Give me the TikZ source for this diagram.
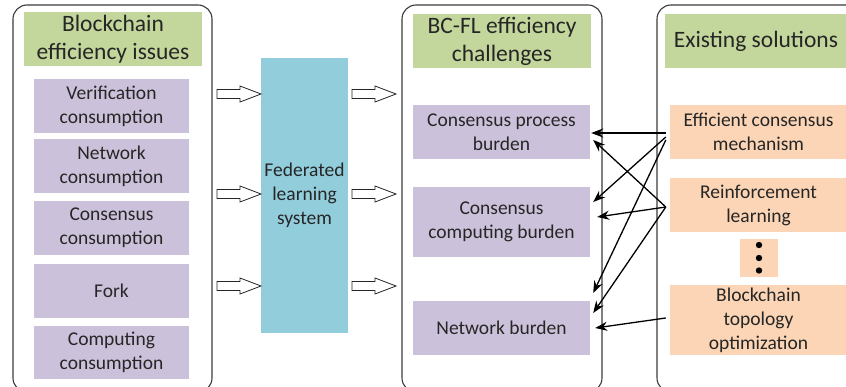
\documentclass[tikz,border=0pt]{standalone}
\usepackage{fontspec}
\setmainfont{Carlito}
\usetikzlibrary{arrows.meta,calc}
\definecolor{hdr}{HTML}{C3D69B}
\definecolor{pur}{HTML}{CCC1DA}
\definecolor{blu}{HTML}{92CDDC}
\definecolor{org}{HTML}{FBD5B5}
\definecolor{txt}{HTML}{262626}
\definecolor{frame}{HTML}{3A3A3A}
\newcommand{\blockarrow}[2]{%
  \draw[barrow] (#1) ++(-44,-4.5) -- ++(23,0) -- ++(0,-3.5) -- (#1)
     -- ++(-21,8) -- ++(0,-3.5) -- ++(-23,0) -- cycle;
  \coordinate (#2) at (#1);}
\begin{document}
\begin{tikzpicture}[x=1pt,y=-1pt,
  container/.style={draw=frame, line width=1.1pt, rounded corners=14pt},
  basebox/.style={inner sep=0pt, align=center, text=txt,
    font=\fontsize{19.5}{24}\selectfont},
  hdrbox/.style={basebox, fill=hdr, minimum width=178pt, minimum height=54pt,
    font=\fontsize{23.5}{28}\selectfont},
  pbox/.style={basebox, fill=pur},
  obox/.style={basebox, fill=org, minimum width=177pt},
  barrow/.style={draw=black!85, fill=white, line width=0.8pt, line join=miter},
  link/.style={-{Stealth[length=12pt,width=9pt]}, line width=1.3pt, black}]
\useasboundingbox (0,0) rectangle (846,387);
\clip (0,0) rectangle (846,387);
% containers
\draw[container] (13,5) rectangle (212,392);
\draw[container] (402,5) rectangle (602,392);
\draw[container] (657,5) rectangle (890,392);
% left column
\node[hdrbox] (lh) at (113,39) {Blockchain\\efficiency issues};
\node[pbox, minimum width=155pt, minimum height=54pt] (l1) at (111.5,106) {Verification\\consumption};
\node[pbox, minimum width=155pt, minimum height=54pt] (l2) at (111.5,166) {Network\\consumption};
\node[pbox, minimum width=155pt, minimum height=54pt] (l3) at (111.5,228) {Consensus\\consumption};
\node[pbox, minimum width=155pt, minimum height=54pt] (l4) at (111.5,291) {Fork};
\node[pbox, minimum width=155pt, minimum height=53pt] (l5) at (111.5,352.5) {Computing\\consumption};
% federated learning
\node[basebox, fill=blu, minimum width=87pt, minimum height=275pt] (fl) at (304.5,195.5) {Federated\\learning\\system};
\coordinate (ta1) at (261,94);
\coordinate (ta2) at (261,194);
\coordinate (ta3) at (261,286);
\coordinate (tb1) at (396,94);
\coordinate (tb2) at (396,194);
\coordinate (tb3) at (396,286);
\blockarrow{ta1}{ba1}
\blockarrow{ta2}{ba2}
\blockarrow{ta3}{ba3}
\blockarrow{tb1}{bb1}
\blockarrow{tb2}{bb2}
\blockarrow{tb3}{bb3}
% middle column
\node[hdrbox] (mh) at (502,41) {BC-FL efficiency\\challenges};
\node[pbox, minimum width=177pt, minimum height=54pt] (p1) at (501.5,132) {Consensus process\\burden};
\node[pbox, minimum width=177pt, minimum height=70pt] (p2) at (501.5,222) {Consensus\\computing burden};
\node[pbox, minimum width=177pt, minimum height=54pt] (p3) at (501.5,328) {Network burden};
% right column
\node[hdrbox, minimum width=182pt] (rh) at (756,41) {Existing solutions};
\node[obox, minimum height=54pt] (o1) at (758.5,132) {Efficient consensus\\mechanism};
\node[obox, minimum height=54pt] (o2) at (758.5,205) {Reinforcement\\learning};
\node[basebox, fill=org, minimum width=38pt, minimum height=38pt] (od) at (759,258) {};
\fill (od.center) ++(0,-13) circle (3.2pt) (od.center) circle (3.2pt) (od.center) ++(0,12.5) circle (3.2pt);
\node[obox, minimum height=70pt] (o3) at (758.5,320) {Blockchain\\topology\\optimization};
% links
\draw[link] ($(o1.west)+(-4,1)$) -- ($(p1.east)+(1,1)$);
\draw[link] ($(o1.west)+(-4,5)$) -- ($(p2.east)+(3,-20)$);
\draw[link] ($(o1.west)+(-4,8)$) -- ($(p3.east)+(3,-35)$);
\draw[link] ($(o2.west)+(-4,2)$) -- ($(p1.east)+(3,8)$);
\draw[link] ($(o2.west)+(-4,2)$) -- ($(p2.east)+(7,-5)$);
\draw[link] ($(o2.west)+(-4,2)$) -- ($(p3.east)+(3,-15)$);
\draw[link] ($(o3.west)+(-4,-2)$) -- ($(p3.east)+(5,0)$);
\end{tikzpicture}
\end{document}
